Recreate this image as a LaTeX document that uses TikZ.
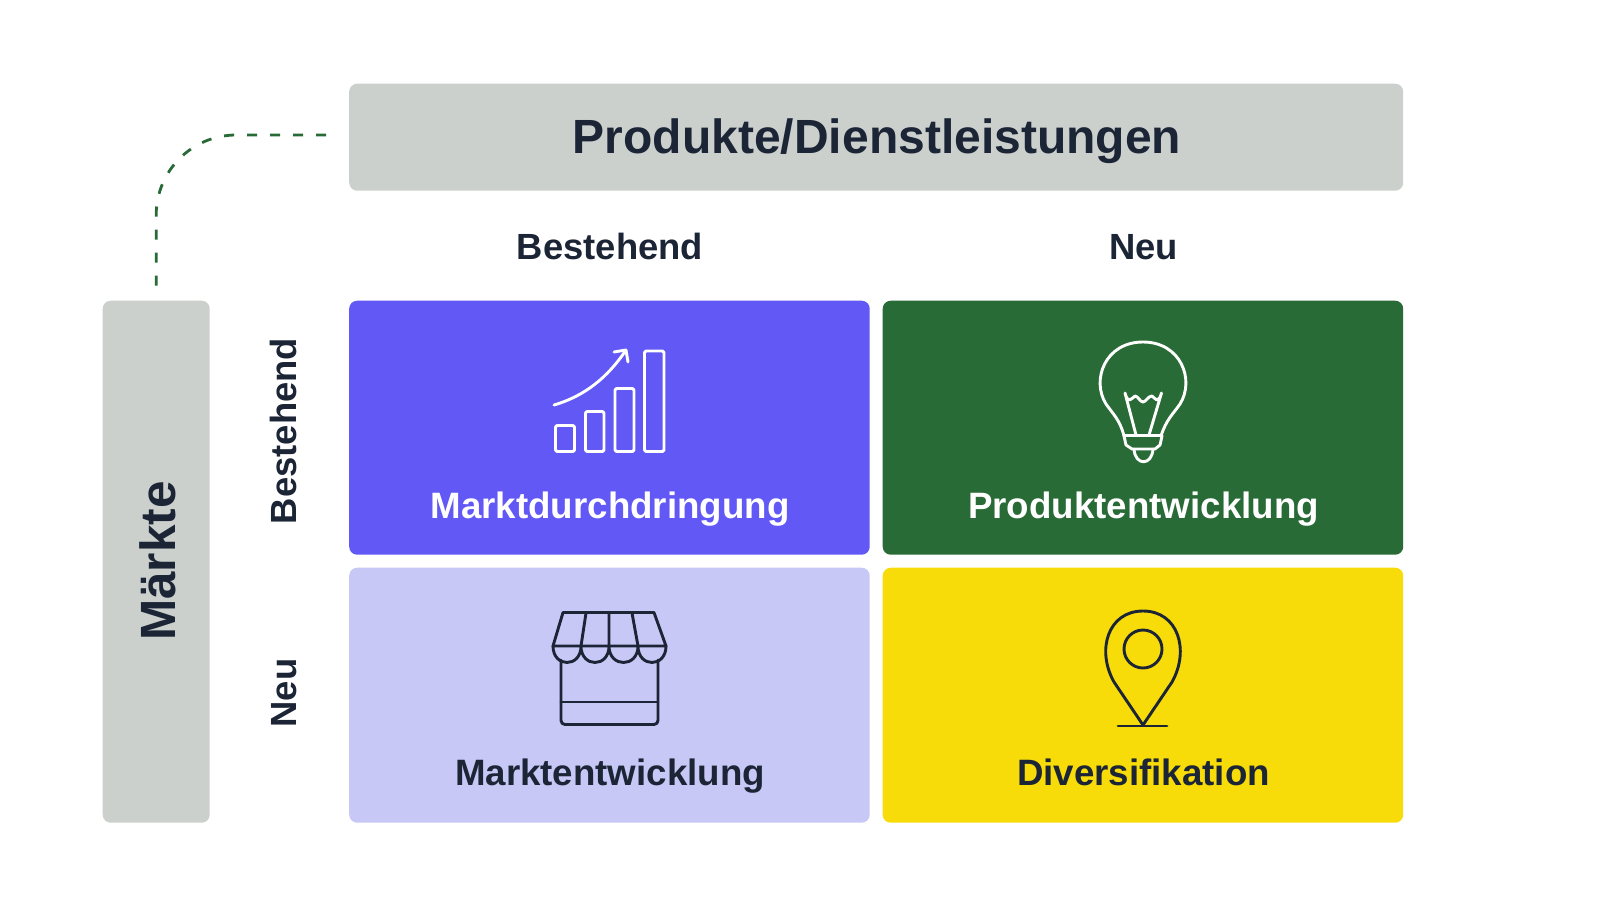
\documentclass[tikz,border=0pt]{standalone}
\usepackage{fontspec}
\setmainfont{Liberation Sans}
\definecolor{gbox}{HTML}{CBD0CD}
\definecolor{ink}{HTML}{1C2536}
\definecolor{violet}{HTML}{6158F5}
\definecolor{lilac}{HTML}{C8C8F7}
\definecolor{forest}{HTML}{296B36}
\definecolor{sun}{HTML}{F8DC0A}
\tikzset{
  x=1pt,y=-1pt,
  cell/.style={rounded corners=8pt,inner sep=0pt,minimum width=520.5pt,anchor=north west},
  graybox/.style={fill=gbox,rounded corners=8pt,inner sep=0pt},
  lab/.style={anchor=base,font=\fontsize{36.7}{40}\selectfont\bfseries,text=ink},
  head/.style={anchor=base,font=\fontsize{36.4}{40}\selectfont\bfseries,text=ink},
  ico/.style={line width=2.9pt,line join=round,line cap=round}
}
\begin{document}
\begin{tikzpicture}
\useasboundingbox (0,0) rectangle (1602,900);
\fill[white] (0,0) rectangle (1602,900);
\node[graybox,minimum width=1054pt,minimum height=107pt,anchor=north west] (bar) at (349,83.5) {};
\node[anchor=base,font=\fontsize{48}{50}\selectfont\bfseries,text=ink] (bartext) at (877,153.5) {Produkte/Dienstleistungen};
\node[graybox,minimum width=107pt,minimum height=522pt,anchor=north west] (maerkte) at (102.5,300.5) {};
\node[anchor=base,font=\fontsize{49.5}{50}\selectfont\bfseries,text=ink,rotate=90] (mtext) at (175.5,561) {Märkte};
\node[cell,minimum height=254pt,fill=violet] (a) at (349,300.5) {};
\node[cell,minimum height=254pt,fill=forest] (b) at (882.5,300.5) {};
\node[cell,minimum height=255pt,fill=lilac] (c) at (349,567.5) {};
\node[cell,minimum height=255pt,fill=sun] (d) at (882.5,567.5) {};
\node[lab,text=white] (at) at (610,518.5) {Marktdurchdringung};
\node[lab,text=white] (bt) at (1143.5,518.5) {Produktentwicklung};
\node[lab] (ct) at (610,785) {Marktentwicklung};
\node[lab] (dt) at (1143.5,785) {Diversifikation};
\node[head] (h1) at (610,259) {Bestehend};
\node[head] (h2) at (1143.5,259) {Neu};
\node[head,rotate=90] (v1) at (296.5,431) {Bestehend};
\node[head,rotate=90] (v2) at (296.5,693) {Neu};
\coordinate (barin) at (349,135);
\draw[forest,line width=2.8pt,dash pattern=on 10pt off 13pt,rounded corners=80pt,shorten <=15pt,shorten >=16pt] (maerkte.north) |- (barin);
% chart
\begin{scope}[ico,white]
\draw[rounded corners=1.5pt] (555.5,425.5) rectangle (574.5,451.5);
\draw[rounded corners=1.5pt] (585.5,411.5) rectangle (604,451.5);
\draw[rounded corners=1.5pt] (615,388.5) rectangle (634,451.5);
\draw[rounded corners=1.5pt] (644.5,351) rectangle (664,451.5);
\draw (554,405) .. controls (585,396) and (608,377) .. (626,350);
\draw (614,352) -- (626,350) -- (628,362);
\end{scope}
% bulb
\begin{scope}[ico,white]
\draw (1124,436) .. controls (1120,420) and (1113,414) .. (1106,404) .. controls (1091,380) and (1105,342) .. (1143,342) .. controls (1181,342) and (1195,380) .. (1180,404) .. controls (1173,414) and (1166,420) .. (1161,436);
\draw (1124,435.5) -- (1162,435.5);
\draw (1124,436) -- (1126,445) -- (1132,449) -- (1155,449) -- (1160,445) -- (1162,436);
\draw (1134,449) .. controls (1135,466) and (1152,466) .. (1153,449);
\draw (1136,435) -- (1125,393) .. controls (1128,405) and (1132,398) .. (1135,396) .. controls (1138,396) and (1140,402) .. (1143,402) .. controls (1146,402) and (1148,396) .. (1152,396) .. controls (1155,398) and (1158,405) .. (1161.5,393) -- (1149,435);
\end{scope}
% shop
\begin{scope}[ico,ink]
\draw (563,612.5) -- (654,612.5) -- (666,646) -- (553,646) -- cycle;
\draw (586,613) -- (581,646) (609,613) -- (609,646) (632,613) -- (638,646);
\draw (553,646) .. controls (553,668) and (581,668) .. (581,646) .. controls (581,668) and (609,668) .. (609,646) .. controls (609,668) and (638,668) .. (638,646) .. controls (638,668) and (666,668) .. (666,646);
\draw[rounded corners=4pt] (561,660) -- (561,724.5) -- (658,724.5) -- (658,660);
\draw (561,702) -- (658,702);
\end{scope}
% pin
\begin{scope}[ico,ink]
\draw (1143,725) -- (1114,682) .. controls (1096,650) and (1108,611) .. (1143,611) .. controls (1178,611) and (1190,650) .. (1172,682) -- cycle;
\draw (1143,649) circle (19);
\draw (1118,726) -- (1167,726);
\end{scope}
\end{tikzpicture}
\end{document}
